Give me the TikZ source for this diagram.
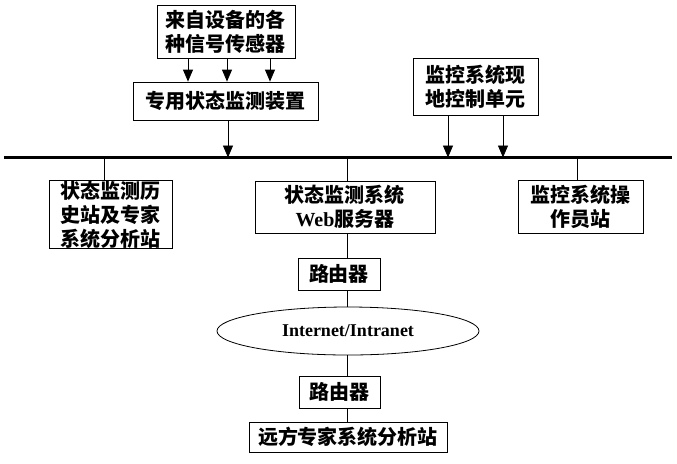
\documentclass[tikz,border=0pt]{standalone}
\usepackage{fontspec}
\setmainfont{Liberation Serif}
\newfontfamily\cjk{Noto Sans CJK SC}
\usepackage{tikz}
\usetikzlibrary{arrows.meta}
\usetikzlibrary{shapes.geometric}

\tikzset{
    box/.style={draw,thin,inner sep=0pt,align=center,
        font={\cjk\bfseries\fontsize{10}{12}\selectfont}},
    arr/.style={-{Triangle[length=6pt,width=5pt]},thin},
}

\begin{document}
\begin{tikzpicture}[x=0.5pt,y=-0.5pt]
        \useasboundingbox (0,0) rectangle (677,463);
        % field side
        \node[box,minimum width=69pt,minimum height=26.5pt] (sensors) at (226,31.5) {来自设备的各\\种信号传感器};
        \node[box,minimum width=92.5pt,minimum height=19pt] (device) at (225.5,101) {专用状态监测装置};
        \node[box,minimum width=62.5pt,minimum height=28.5pt] (localctl) at (475.5,86.5) {监控系统现\\地控制单元};
        \foreach \x in {188,227,270}{
            \draw[arr] (\x,0 |- sensors.south) -- (\x,0 |- device.north);
        }
        % bus
        \coordinate (busL) at (4,157.5);
        \coordinate (busR) at (672,157.5);
        \draw[line width=1.8pt] (busL) -- (busR);
        \draw[arr] (228,0 |- device.south) -- (228,0 |- busL);
        \foreach \x in {448,503}{
            \draw[arr] (\x,0 |- localctl.south) -- (\x,0 |- busL);
        }
        % stations
        \node[box,minimum width=61.5pt,minimum height=33.5pt] (hist) at (110.5,214.5) {状态监测历\\史站及专家\\系统分析站};
        \node[box,minimum width=90pt,minimum height=26pt] (websrv) at (345,207) {状态监测系统\\{\rmfamily Web}服务器};
        \node[box,minimum width=62.5pt,minimum height=26.5pt] (oper) at (580.5,206.5) {监控系统操\\作员站};
        \draw[thin] (104,0 |- busL) -- (104,0 |- hist.north);
        \draw[thin] (347,0 |- busL) -- (347,0 |- websrv.north);
        \draw[thin] (577,0 |- busL) -- (577,0 |- oper.north);
        % remote side
        \node[box,minimum width=41pt,minimum height=16pt] (router1) at (339,274) {路由器};
        \node[box,ellipse,minimum width=131pt,minimum height=24pt,
            font={\rmfamily\bfseries\fontsize{9}{11}\selectfont}] (inet) at (348,331) {Internet/Intranet};
        \node[box,minimum width=40.5pt,minimum height=16pt] (router2) at (339.5,392) {路由器};
        \node[box,minimum width=99pt,minimum height=15pt] (remote) at (348,437) {远方专家系统分析站};
        \coordinate (ax) at (347,0);
        \draw[thin] (websrv.south -| ax) -- (router1.north -| ax);
        \draw[thin] (router1.south -| ax) -- (inet.north -| ax);
        \draw[thin] (inet.south -| ax) -- (router2.north -| ax);
        \draw[thin] (router2.south -| ax) -- (remote.north -| ax);
    \end{tikzpicture}
\end{document}
